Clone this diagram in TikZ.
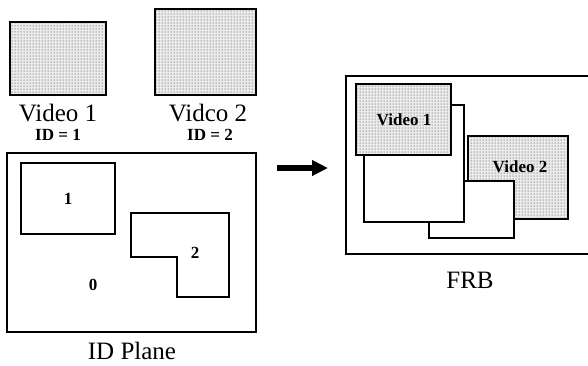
\documentclass[tikz,border=0pt]{standalone}
\usepackage{fontspec}
\setmainfont{Liberation Serif}
\usetikzlibrary{patterns,arrows.meta}
\tikzset{
  box/.style={draw=black,line width=1.8pt,fill=white},
  shaded/.style={draw=black,line width=1.8pt,preaction={fill=black!8},pattern=dots,pattern color=black!85},
  biglabel/.style={font=\fontsize{25}{28}\selectfont,inner sep=0pt},
  smalllabel/.style={font=\fontsize{17}{20}\selectfont\bfseries,inner sep=0pt},
  fatarrow/.style={line width=6pt,-{Triangle[length=16pt,width=15pt]}}
}
\begin{document}
\begin{tikzpicture}[x=1pt,y=-1pt]
\useasboundingbox (0,0) rectangle (588,365);
% sources
\draw[shaded] (10,22) rectangle (106,95);
\draw[shaded] (155,9) rectangle (256,95);
\node[biglabel] (v1) at (58,113) {Video 1};
\node[biglabel] (v2) at (208,113) {Vidco 2};
\node[smalllabel] (id1) at (58,135) {ID = 1};
\node[smalllabel] (id2) at (210,135) {ID = 2};
% ID plane
\draw[box] (7,153) rectangle (256,332);
\draw[box] (21,163) rectangle (115,234);
\draw[box] (131,213) -- (229,213) -- (229,297) -- (177,297) -- (177,257) -- (131,257) -- cycle;
\node[smalllabel] (r1) at (68,199) {1};
\node[smalllabel] (r2) at (195,253) {2};
\node[smalllabel] (r0) at (93,285) {0};
\node[biglabel] (idp) at (132,351) {ID Plane};
% arrow
\coordinate (as) at (277,168);
\coordinate (ae) at (328,168);
\draw[fatarrow] (as) -- (ae);
% FRB
\draw[box] (346,76) rectangle (600,254);
\draw[shaded] (468,136) rectangle (568,219);
\draw[box] (429,181) rectangle (514,238);
\draw[box] (364,105) rectangle (464,222);
\draw[shaded] (356,84) rectangle (451,155);
\node[smalllabel] (fv1) at (404,120) {Video 1};
\node[smalllabel] (fv2) at (520,167) {Video 2};
\node[biglabel] (frb) at (470,280) {FRB};
\end{tikzpicture}
\end{document}
